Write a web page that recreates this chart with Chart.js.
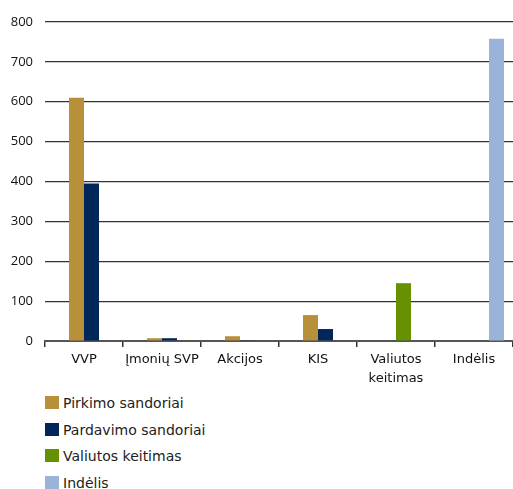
<!DOCTYPE html>
<html>
<head>
<meta charset="utf-8">
<script src="https://cdn.jsdelivr.net/npm/chart.js@4/dist/chart.umd.min.js"></script>
<style>
  body { margin: 0; background: #fff; }
  #wrap { position: relative; width: 513px; height: 390px; }
  #legenda { position: absolute; left: 45px; top: 395px; font-family: "DejaVu Sans", sans-serif; font-size: 14px; color: #222; }
  #legenda div { height: 26.7px; display: flex; align-items: flex-start; }
  #legenda span.box { display: inline-block; width: 14px; height: 13px; margin-right: 4px; margin-top: 1px; }
</style>
</head>
<body>
<div id="wrap"><canvas id="grafica"></canvas></div>
<div id="legenda"></div>
<script>
const kategorijos = ["VVP", "Įmonių SVP", "Akcijos", "KIS", ["Valiutos", "keitimas"], "Indėlis"];
const pirkimo = [610, 7, 12, 65, null, null];
const pardavimo = [395, 7, 2, 30, null, null];
const valiutos = [null, null, null, null, 145, null];
const indelis = [null, null, null, null, null, 758];
const yTicks = [0, 100, 200, 300, 400, 500, 600, 700, 800];

const serijos = [
  { label: "Pirkimo sandoriai", data: pirkimo, color: "#B8903A", stack: "s1" },
  { label: "Pardavimo sandoriai", data: pardavimo, color: "#00265A", stack: "s2" },
  { label: "Valiutos keitimas", data: valiutos, color: "#669100", stack: "s2" },
  { label: "Indėlis", data: indelis, color: "#9BB3D8", stack: "s3" }
];

// tuscias slotas pirmoje vietoje (kaip originale)
const datasets = [{ label: "", data: kategorijos.map(() => null), stack: "s0" }];
serijos.forEach(s => {
  datasets.push({ label: s.label, data: s.data, backgroundColor: s.color, stack: s.stack });
});

const leg = document.getElementById("legenda");
serijos.forEach(s => {
  leg.innerHTML += `<div><span class="box" style="background:${s.color}"></span>${s.label}</div>`;
});

const ctx = document.getElementById("grafica").getContext("2d");
new Chart(ctx, {
  type: "bar",
  data: { labels: kategorijos, datasets: datasets },
  options: {
    responsive: true,
    maintainAspectRatio: false,
    animation: false,
    categoryPercentage: 0.77,
    barPercentage: 1,
    layout: { padding: { top: 22, right: 0, left: 0, bottom: 0 } },
    plugins: { legend: { display: false }, tooltip: { enabled: false } },
    scales: {
      x: {
        stacked: true,
        afterFit: s => { s.height = 49; },
        grid: { drawOnChartArea: false, drawTicks: true, tickLength: 6, color: "#333", lineWidth: 1.5 },
        border: { display: true, color: "#555", width: 2 },
        ticks: { color: "#111", padding: 3, maxRotation: 0, autoSkip: false, font: { family: "DejaVu Sans", size: 13, lineHeight: 1.45 } }
      },
      y: {
        stacked: true,
        min: 0,
        max: 800,
        afterFit: s => { s.width = 45; },
        afterBuildTicks: s => { s.ticks = yTicks.map(v => ({ value: v })); },
        grid: { drawTicks: false, color: "#333", lineWidth: 1.2 },
        border: { display: false },
        ticks: { color: "#111", padding: 12, font: { family: "Open Sans", size: 13 } }
      }
    }
  }
});
</script>
</body>
</html>
